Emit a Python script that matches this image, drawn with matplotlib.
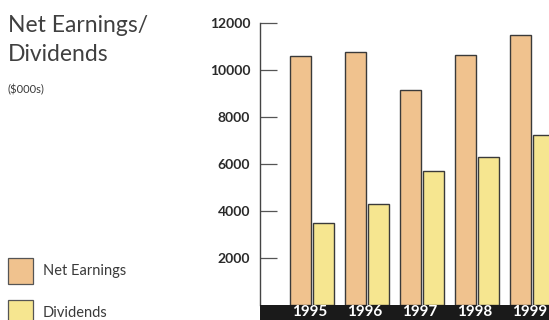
import matplotlib
matplotlib.use("Agg")
import matplotlib.pyplot as plt
from matplotlib.patches import Rectangle
import numpy as np

years = ["1995", "1996", "1997", "1998", "1999"]
net_earnings = [10600, 10750, 9150, 10630, 11480]
dividends = [3500, 4290, 5690, 6300, 7240]
yticks = [2000, 4000, 6000, 8000, 10000, 12000]

c_earn = "#F0C28E"
c_div = "#F6E690"
edge = "#3a3a3a"

W, H = 549, 320
fig = plt.figure(figsize=(W / 100, H / 100), dpi=100)
fig.patch.set_facecolor("white")

ax = fig.add_axes([260 / W, (H - 305) / H, (W - 260) / W, (305 - 23) / H])
x = np.arange(len(years))
bw = 0.39
ax.bar(x - 0.205, net_earnings, width=bw, color=c_earn, edgecolor=edge, linewidth=1.0, zorder=3)
ax.bar(x + 0.205, dividends, width=bw, color=c_div, edgecolor=edge, linewidth=1.0, zorder=3)
ax.set_xlim(-0.945, 4.31)
ax.set_ylim(0, 12000)
ax.set_yticks(yticks)
ax.set_yticklabels([str(v) for v in yticks], fontsize=10, fontweight="bold",
                   color="#2a2a2a", family="Lato")
ax.tick_params(axis="y", direction="in", length=12, width=0.9, color="#555555", pad=7)
ax.set_xticks([])
for s in ["top", "right", "bottom"]:
    ax.spines[s].set_visible(False)
ax.spines["left"].set_color("#444444")
ax.spines["left"].set_linewidth(1.0)

# black band with years
band = Rectangle((260 / W, 0), (W - 260) / W, 15 / H, transform=fig.transFigure,
                 facecolor="#1a1a1a", edgecolor="none", zorder=5)
fig.patches.append(band)
for i, yr in enumerate(years):
    xf = ax.transData.transform((i, 0))[0] / W
    fig.text(xf - 2 / W, 0.5 / H, yr, color="white", fontsize=11, fontweight="bold",
             family="Lato", ha="center", va="bottom", zorder=6)

# title
fig.text(8 / W, 1 - 15 / H, "Net Earnings/\nDividends", fontsize=16.5, fontweight="normal",
         family="Lato", color="#404040", ha="left", va="top", linespacing=1.45)
fig.text(8 / W, 1 - 90 / H, "($000s)", fontsize=8, family="Lato", color="#3a3a3a",
         ha="left", va="center")

# legend
for yc, col, lab in [(271, c_earn, "Net Earnings"), (313, c_div, "Dividends")]:
    fig.patches.append(Rectangle((8 / W, (H - yc - 13) / H), 25 / W, 26 / H,
                                 transform=fig.transFigure, facecolor=col,
                                 edgecolor="#555555", linewidth=0.9))
    fig.text(43 / W, (H - yc) / H, lab, fontsize=10.5, family="Lato", fontweight="normal",
             color="#3a3a3a", ha="left", va="center")

fig.savefig("out.png", dpi=100)
